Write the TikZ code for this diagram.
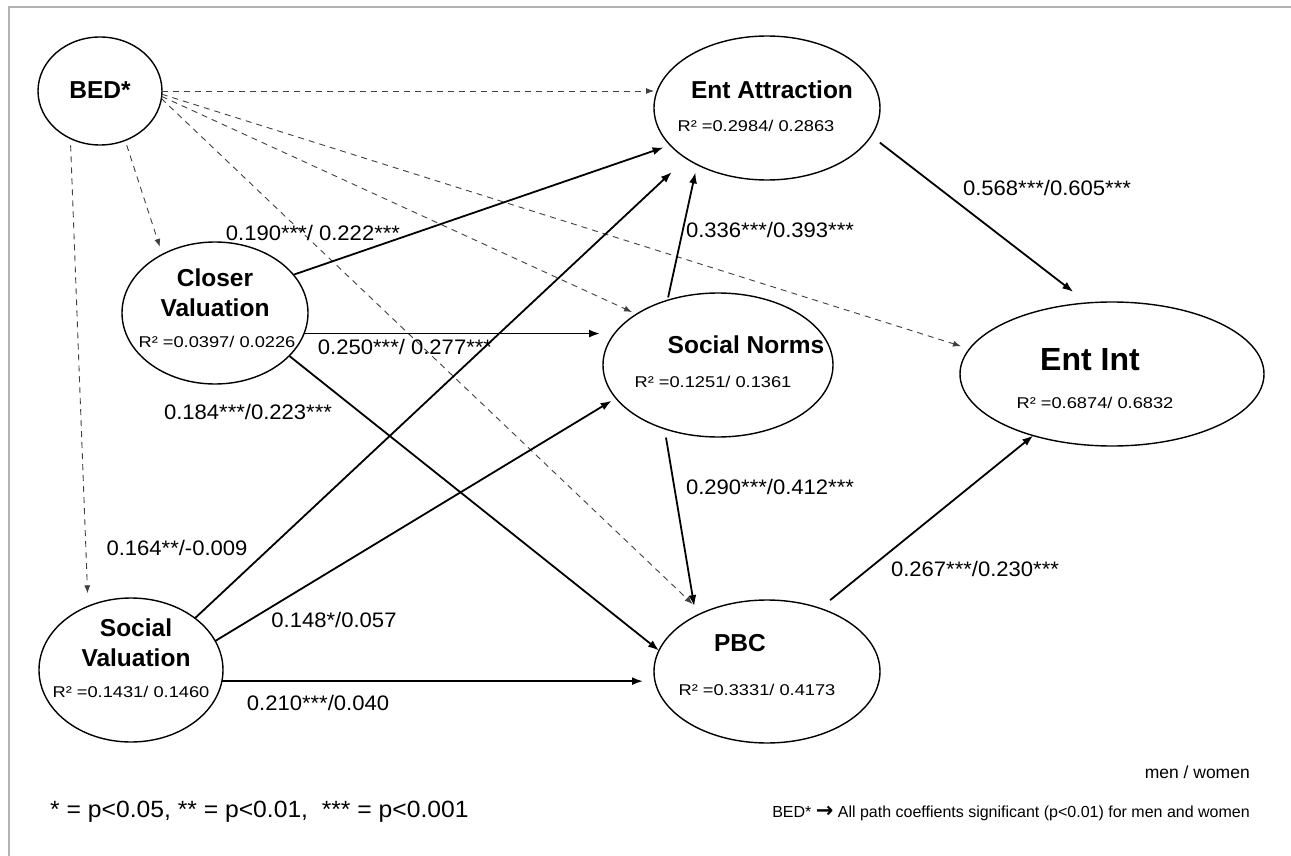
\documentclass[tikz,border=0pt]{standalone}
\usepackage{fontspec}
\setmainfont{Liberation Sans}
\newfontfamily\coeffont[FakeStretch=1.17]{Liberation Sans}
\newfontfamily\pathfont[FakeStretch=1.05]{Liberation Sans}
\newfontfamily\arrowfont{DejaVu Sans}
\usetikzlibrary{shapes.geometric,arrows.meta}

\begin{document}
\begin{tikzpicture}[x=1pt, y=-1pt,
    latent/.style={ellipse, draw, line width=1.4pt, inner sep=0pt, outer sep=0pt},
    lbl/.style={font=\fontsize{24.5}{26}\selectfont\bfseries, inner sep=0pt},
    rsq/.style={font=\coeffont\fontsize{15.6}{17}\selectfont, inner sep=0pt},
    coef/.style={font=\pathfont\fontsize{21}{23}\selectfont, inner sep=0pt},
    effect/.style={line width=1.8pt, -{Latex[length=11pt,width=8pt]}},
    bedpath/.style={dash pattern=on 6pt off 5pt, line width=0.9pt, draw=black!75, -{Latex[length=8pt,width=6pt]}}]
    \useasboundingbox (0,0) rectangle (1291,856);
    % Frame lines at top and left
    \draw[line width=2pt, black!30] (9,856) -- (9,7) -- (1291,7);

    % Draw the latent variables
    \node[latent, minimum width=124pt, minimum height=108pt] (bed) at (100,91) {};
    \node[latent, minimum width=226pt, minimum height=144pt] (ea) at (767,108) {};
    \node[latent, minimum width=304pt, minimum height=144pt] (ei) at (1112,374) {};
    \node[latent, minimum width=186pt, minimum height=142pt] (cv) at (215,313) {};
    \node[latent, minimum width=230pt, minimum height=144pt] (sn) at (718,365) {};
    \node[latent, minimum width=226pt, minimum height=143pt] (pbc) at (767,671.5) {};
    \node[latent, minimum width=184pt, minimum height=144pt] (sv) at (131,670) {};

    % Names and R^2 inside the ellipses
    \node[lbl] (bedtxt) at (100,90) {BED*};
    \node[lbl] (eatxt) at (772,90) {Ent Attraction};
    \node[rsq] (earsq) at (756,126) {R² =0.2984/ 0.2863};
    \node[lbl, font=\fontsize{32}{34}\selectfont\bfseries] (eitxt) at (1090,360) {Ent Int};
    \node[rsq] (eirsq) at (1095,403) {R² =0.6874/ 0.6832};
    \node[lbl] (cvtxt) at (215,278) {Closer};
    \node[lbl] (cvtxtb) at (215,308) {Valuation};
    \node[rsq] (cvrsq) at (217,342) {R² =0.0397/ 0.0226};
    \node[lbl] (sntxt) at (746,345) {Social Norms};
    \node[rsq] (snrsq) at (713,382) {R² =0.1251/ 0.1361};
    \node[lbl] (pbctxt) at (740,643) {PBC};
    \node[rsq] (pbcrsq) at (757,690) {R² =0.3331/ 0.4173};
    \node[lbl] (svtxt) at (136,628) {Social};
    \node[lbl] (svtxtb) at (136,658) {Valuation};
    \node[rsq] (svrsq) at (131,692) {R² =0.1431/ 0.1460};

    % Dashed paths from BED*
    \draw[bedpath] (bed.east) -- (bed.east -| ea.west);
    \draw[bedpath, shorten >=9pt] (bed.-3) -- (ei.170);
    \draw[bedpath, shorten >=5pt] (bed.-5) -- (sn.148);
    \draw[bedpath, shorten >=13pt] (bed.-7) -- (pbc.138);
    \draw[bedpath, shorten <=5pt, shorten >=8pt] (bed.-63) -- (cv.132);
    \draw[bedpath, shorten <=7pt, shorten >=13pt] (bed.238) -- (sv.124);

    % Solid paths with coefficients
    \draw[effect, shorten >=7pt] (cv.26) -- (ea.201);
    \node[coef] (c1) at (313,233) {0.190***/ 0.222***};
    \draw[effect, shorten >=3pt] (cv.-13) -- (cv.-13 -| sn.west);
    \node[coef] (c2) at (405,347) {0.250***/ 0.277***};
    \draw[effect] (cv.-30) -- (pbc.169);
    \node[coef] (c3) at (248,412) {0.184***/0.223***};
    \draw[effect, shorten >=20pt] (sv.39) -- (ea.212);
    \node[coef] (c4) at (177,548) {0.164**/-0.009};
    \draw[effect, shorten >=5pt] (sv.19) -- (sn.198);
    \node[coef] (c5) at (334,620) {0.148*/0.057};
    \draw[effect, shorten >=11pt] (sv.-7.5) -- (sv.-7.5 -| pbc.west);
    \node[coef] (c6) at (318,703) {0.210***/0.040};
    \draw[effect, shorten <=3pt, shorten >=8pt] (sn.128) -- (ea.219);
    \node[coef] (c7) at (770,230) {0.336***/0.393***};
    \draw[effect, shorten <=9pt, shorten >=10pt] (sn.230) -- (pbc.142);
    \node[coef] (c8) at (770,487) {0.290***/0.412***};
    \draw[effect, shorten <=11pt, shorten >=18pt] (ea.-15) -- (ei.109);
    \node[coef] (c9) at (1047,188) {0.568***/0.605***};
    \draw[effect, shorten <=13pt] (pbc.50) -- (ei.218);
    \node[coef] (c10) at (975,569) {0.267***/0.230***};

    % Legend
    \node[coef, font=\pathfont\fontsize{23.5}{25}\selectfont, anchor=west] (sig) at (50,812) {* = p<0.05, ** = p<0.01, \ *** = p<0.001};
    \node[font=\fontsize{17.5}{19}\selectfont, anchor=east, inner sep=0pt] (mw) at (1250,772) {men / women};
    \node[font=\fontsize{16}{18}\selectfont, anchor=east, inner sep=0pt] (note) at (1250,813) {BED* {\arrowfont\bfseries\fontsize{21}{18}\selectfont →} All path coeffients significant (p<0.01) for men and women};
\end{tikzpicture}
\end{document}
